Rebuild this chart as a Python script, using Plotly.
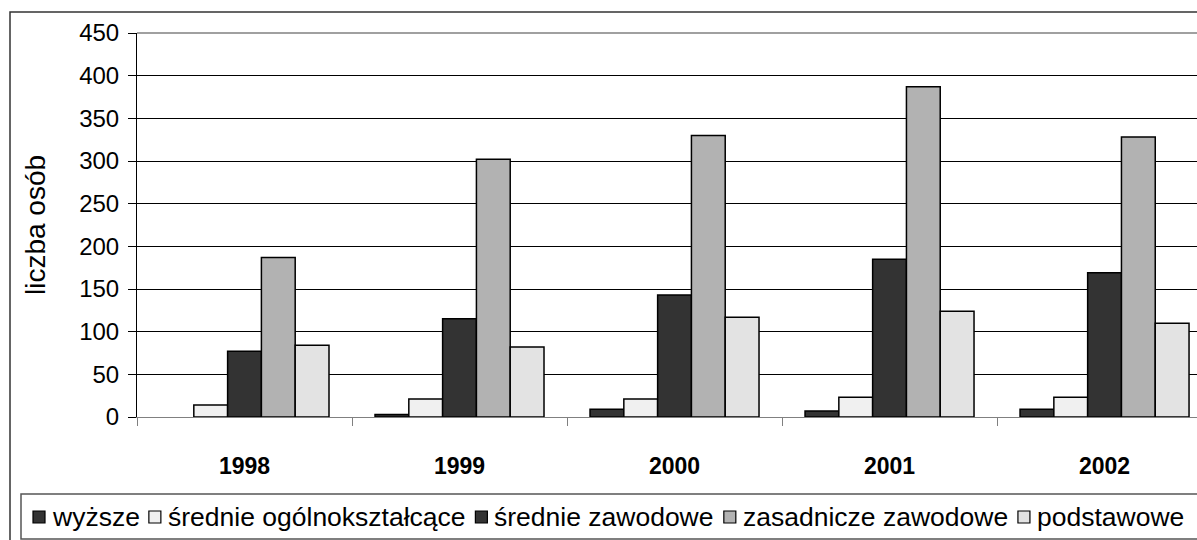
import plotly.graph_objects as go

years = ["1998", "1999", "2000", "2001", "2002"]
series_names = ["wyższe", "średnie ogólnokształcące", "średnie zawodowe",
                "zasadnicze zawodowe", "podstawowe"]
wyzsze = [0, 3, 9, 7, 9]
srednie_ogolne = [14, 21, 21, 23, 23]
srednie_zawodowe = [77, 115, 143, 185, 169]
zasadnicze = [187, 302, 330, 387, 328]
podstawowe = [84, 82, 117, 124, 110]
y_ticks = [0, 50, 100, 150, 200, 250, 300, 350, 400, 450]

values = [wyzsze, srednie_ogolne, srednie_zawodowe, zasadnicze, podstawowe]
colors = ["#333333", "#f0f0f0", "#333333", "#b2b2b2", "#e3e3e3"]

FONT = "Liberation Sans, Arial, sans-serif"
LEG_SIZE = 26.5

fig = go.Figure()
for name, vals, col in zip(series_names, values, colors):
    fig.add_trace(go.Bar(
        x=years, y=vals, name=name, showlegend=False,
        marker=dict(color=col, line=dict(color="black",
                                         width=[1.5 if v > 0 else 0 for v in vals])),
    ))

W, H = 1197, 540
L, R, T, B = 137, 0, 33, 123
pw, ph = W - L - R, H - T - B

def px(x):
    return (x - L) / pw

def py(y):
    return (H - B - y) / ph

# approximate Arial advance widths (em) for legend layout
ADV = {'a': .556, 'b': .556, 'c': .5, 'd': .556, 'e': .556, 'g': .556, 'i': .222,
       'k': .5, 'l': .222, 'n': .556, 'o': .556, 'p': .556, 'r': .333, 's': .5,
       't': .278, 'w': .722, 'y': .5, 'z': .5, ' ': .278, 'ś': .5, 'ż': .5,
       'ó': .556, 'ł': .222, 'ą': .556}

def text_w(s, size):
    return sum(ADV.get(ch, .556) for ch in s) * size

shapes = [
    dict(type="rect", xref="paper", yref="paper", x0=px(10), x1=px(1210),
         y0=py(545), y1=py(12), line=dict(color="#333333", width=1.5), layer="below"),
    dict(type="rect", xref="paper", yref="paper", x0=px(21), x1=px(1210),
         y0=py(539), y1=py(494), line=dict(color="#555555", width=1.5), layer="below"),
    dict(type="line", xref="paper", yref="paper", x0=0, x1=1, y0=1, y1=1,
         line=dict(color="#808080", width=1.5)),
]
annotations = []
xcur = 33
sq = 12
leg_y = 517
for name, col in zip(series_names, colors):
    shapes.append(dict(type="rect", xref="paper", yref="paper",
                       x0=px(xcur), x1=px(xcur + sq), y0=py(leg_y + sq / 2), y1=py(leg_y - sq / 2),
                       fillcolor=col, line=dict(color="black", width=1.2)))
    annotations.append(dict(xref="paper", yref="paper", x=px(xcur + sq + 5), y=py(leg_y),
                            xanchor="left", yanchor="middle", showarrow=False, text=name,
                            font=dict(size=LEG_SIZE, family=FONT, color="black")))
    xcur += sq + 5 + text_w(name, LEG_SIZE) + 12

fig.update_layout(
    width=W, height=H,
    margin=dict(l=L, r=R, t=T, b=B),
    paper_bgcolor="white", plot_bgcolor="white",
    barmode="group", bargap=0.214, bargroupgap=0,
    font=dict(family=FONT, color="black"),
    xaxis=dict(range=[-0.5, 4.43], showline=True, linecolor="#808080", linewidth=1,
               ticks="outside", tickson="boundaries", ticklen=8, tickcolor="#808080",
               tickvals=years, ticktext=[f"<b>{y}</b>" for y in years],
               tickfont=dict(size=23, family=FONT), ticklabelstandoff=28,
               showgrid=False, fixedrange=True),
    yaxis=dict(range=[0, 450], tickvals=y_ticks, showline=True, linecolor="black",
               linewidth=1, ticks="outside", ticklen=8, tickcolor="black",
               tickfont=dict(size=24, family=FONT), showgrid=True, gridcolor="black",
               gridwidth=1, zeroline=False, ticklabelstandoff=4,
               title=dict(text="liczba osób", font=dict(size=28, family=FONT), standoff=25)),
    shapes=shapes,
    annotations=annotations,
)

fig.write_html("out.html", config={"displayModeBar": False},
               post_script="document.body.style.margin='0';")
